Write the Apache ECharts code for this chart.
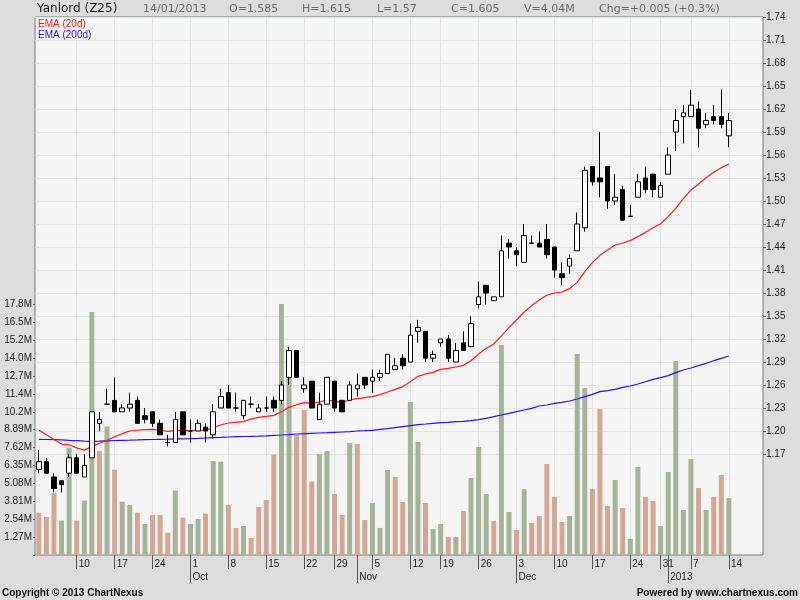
<!DOCTYPE html>
<html>
<head>
<meta charset="utf-8">
<script src="https://cdn.jsdelivr.net/npm/echarts@6/dist/echarts.min.js"></script>
<style>html,body{margin:0;padding:0;background:#dddddd;}#c{width:800px;height:600px;}</style>
</head>
<body>
<div id="c"></div>
<script>
var dates = ['2012-09-03','2012-09-04','2012-09-05','2012-09-06','2012-09-07','2012-09-10','2012-09-11','2012-09-12','2012-09-13','2012-09-14',
'2012-09-17','2012-09-18','2012-09-19','2012-09-20','2012-09-21','2012-09-24','2012-09-25','2012-09-26','2012-09-27','2012-09-28',
'2012-10-01','2012-10-02','2012-10-03','2012-10-04','2012-10-05','2012-10-08','2012-10-09','2012-10-10','2012-10-11','2012-10-12',
'2012-10-15','2012-10-16','2012-10-17','2012-10-18','2012-10-19','2012-10-22','2012-10-23','2012-10-24','2012-10-25','2012-10-29',
'2012-10-30','2012-10-31','2012-11-01','2012-11-02','2012-11-05','2012-11-06','2012-11-07','2012-11-08','2012-11-09','2012-11-12',
'2012-11-14','2012-11-15','2012-11-16','2012-11-19','2012-11-20','2012-11-21','2012-11-22','2012-11-23','2012-11-26','2012-11-27',
'2012-11-28','2012-11-29','2012-11-30','2012-12-03','2012-12-04','2012-12-05','2012-12-06','2012-12-07','2012-12-10','2012-12-11',
'2012-12-12','2012-12-13','2012-12-14','2012-12-17','2012-12-18','2012-12-19','2012-12-20','2012-12-21','2012-12-24','2012-12-26',
'2012-12-27','2012-12-28','2012-12-31','2013-01-02','2013-01-03','2013-01-04','2013-01-07','2013-01-08','2013-01-09','2013-01-10',
'2013-01-11','2013-01-14'];

var open = [1.15,1.16,1.14,1.135,1.145,1.165,1.14,1.165,1.21,1.235,
1.24,1.225,1.23,1.24,1.22,1.225,1.21,1.185,1.185,1.225,
1.2,1.2,1.205,1.195,1.23,1.25,1.23,1.22,1.235,1.225,
1.23,1.24,1.24,1.27,1.305,1.255,1.265,1.215,1.235,1.265,
1.24,1.24,1.255,1.27,1.265,1.27,1.275,1.28,1.295,1.29,
1.33,1.33,1.295,1.315,1.32,1.29,1.315,1.31,1.365,1.39,
1.37,1.375,1.445,1.435,1.42,1.445,1.445,1.45,1.44,1.405,
1.415,1.435,1.465,1.545,1.53,1.545,1.5,1.515,1.48,1.505,
1.53,1.535,1.505,1.535,1.59,1.61,1.61,1.62,1.6,1.61,
1.61,1.585];
var high = [1.175,1.165,1.145,1.135,1.17,1.17,1.17,1.225,1.225,1.255,
1.27,1.235,1.25,1.245,1.23,1.225,1.215,1.195,1.225,1.225,
1.215,1.215,1.21,1.235,1.255,1.26,1.25,1.24,1.245,1.235,
1.245,1.245,1.265,1.31,1.305,1.27,1.265,1.25,1.27,1.265,
1.24,1.265,1.275,1.27,1.28,1.28,1.3,1.295,1.3,1.34,
1.345,1.33,1.305,1.32,1.325,1.315,1.33,1.35,1.395,1.39,
1.375,1.455,1.45,1.44,1.47,1.455,1.46,1.47,1.44,1.42,
1.43,1.485,1.545,1.545,1.59,1.545,1.535,1.52,1.495,1.535,
1.545,1.535,1.525,1.57,1.62,1.625,1.645,1.63,1.615,1.625,
1.645,1.615];
var low = [1.145,1.145,1.12,1.12,1.14,1.145,1.14,1.165,1.2,1.235,
1.225,1.225,1.225,1.21,1.21,1.205,1.195,1.18,1.185,1.195,
1.185,1.2,1.185,1.19,1.23,1.23,1.225,1.215,1.23,1.225,
1.225,1.225,1.235,1.26,1.27,1.25,1.23,1.215,1.235,1.225,
1.225,1.24,1.245,1.255,1.25,1.265,1.275,1.28,1.28,1.29,
1.315,1.29,1.29,1.31,1.29,1.29,1.305,1.31,1.36,1.365,
1.37,1.375,1.425,1.415,1.42,1.445,1.44,1.425,1.4,1.39,
1.405,1.435,1.46,1.52,1.505,1.49,1.495,1.475,1.48,1.505,
1.51,1.505,1.505,1.535,1.565,1.575,1.61,1.57,1.595,1.6,
1.595,1.57];
var close = [1.16,1.145,1.125,1.13,1.165,1.145,1.155,1.225,1.215,1.235,
1.225,1.23,1.235,1.21,1.215,1.21,1.195,1.185,1.215,1.195,
1.2,1.21,1.2,1.225,1.245,1.23,1.23,1.24,1.235,1.23,
1.23,1.23,1.26,1.305,1.27,1.26,1.23,1.235,1.27,1.23,
1.225,1.26,1.26,1.26,1.27,1.275,1.3,1.285,1.285,1.325,
1.335,1.295,1.3,1.32,1.295,1.305,1.305,1.34,1.375,1.38,
1.375,1.435,1.44,1.43,1.455,1.445,1.44,1.43,1.41,1.4,
1.425,1.47,1.54,1.525,1.525,1.5,1.505,1.475,1.48,1.525,
1.515,1.515,1.52,1.56,1.605,1.615,1.625,1.595,1.605,1.605,
1.6,1.605];
// volume in millions of shares
var volume = [3.00,2.70,4.42,2.44,7.62,2.44,3.86,17.24,7.40,9.11,
6.05,3.78,3.55,3.00,2.20,2.84,2.84,1.58,4.56,2.65,
2.20,2.55,2.93,6.67,6.62,3.55,1.92,2.06,1.21,3.41,
3.90,7.12,17.8,13.0,8.51,10.29,5.20,7.17,7.38,4.33,
2.84,7.95,7.88,2.48,3.69,1.92,6.03,5.53,3.76,10.86,
8.02,3.69,1.84,2.20,1.28,1.28,3.12,5.46,7.66,4.33,
2.41,14.90,3.05,1.77,4.68,2.27,2.77,6.46,4.12,2.34,
2.77,14.26,11.85,4.68,10.36,3.48,5.32,3.33,1.14,6.24,
4.12,3.83,2.06,5.89,13.76,3.19,6.81,4.75,3.19,4.12,
5.68,4.04];
var ema20 = [1.2013,1.1952,1.189,1.183,1.182,1.178,1.175,1.1796,1.184,1.188,
1.1926,1.1965,1.200,1.201,1.2017,1.202,1.201,1.1996,1.2004,1.2004,
1.2004,1.2009,1.2009,1.2044,1.2078,1.2104,1.2113,1.2122,1.2156,1.2178,
1.219,1.2204,1.2252,1.2309,1.2343,1.2370,1.2361,1.2378,1.2404,1.2387,
1.2374,1.2404,1.2422,1.2435,1.2448,1.2474,1.2509,1.2543,1.2578,1.2644,
1.2713,1.2744,1.2765,1.2804,1.2817,1.2835,1.2857,1.2917,1.3004,1.3078,
1.3135,1.324,1.3348,1.3448,1.3552,1.3635,1.3709,1.3770,1.3800,1.3813,
1.3857,1.3939,1.4078,1.4196,1.4291,1.4361,1.4426,1.4452,1.4483,1.4535,
1.4591,1.4652,1.4704,1.4796,1.4904,1.5030,1.5143,1.5222,1.5304,1.5374,
1.5435,1.5483];
var ema200 = [1.1891,1.1889,1.1887,1.1883,1.1878,1.1874,1.1867,1.1865,1.1867,1.1872,
1.1876,1.1878,1.1880,1.1883,1.1887,1.1889,1.1891,1.1893,1.1896,1.1898,
1.1900,1.1904,1.1909,1.1913,1.1917,1.1922,1.1926,1.1928,1.1930,1.1933,
1.1937,1.1944,1.1948,1.1954,1.1961,1.1965,1.1970,1.1974,1.1978,1.1983,
1.1987,1.1991,1.2000,1.2004,1.2009,1.2022,1.2031,1.2044,1.2057,1.2070,
1.2083,1.2091,1.2100,1.2109,1.2113,1.2122,1.2126,1.2135,1.2148,1.2165,
1.2187,1.2209,1.2230,1.2252,1.2274,1.2296,1.2326,1.2339,1.2361,1.2374,
1.2391,1.2417,1.2448,1.2478,1.2513,1.2526,1.2543,1.2570,1.2587,1.2613,
1.2643,1.2674,1.2696,1.2722,1.2761,1.2796,1.2822,1.2852,1.2883,1.2917,
1.2948,1.2978];
var priceTicks = {min: 1.17, max: 1.74, step: 0.03};
var volumeTicks = {step: 1.27, count: 14};
var monthNames = ['Jan','Feb','Mar','Apr','May','Jun','Jul','Aug','Sep','Oct','Nov','Dec'];
var stockName = 'Yanlord (Z25)';

var padCount = 4;
var cats = dates.slice();
for (var p = 0; p < padCount; p++) cats.push('pad' + p);

function d(i) { return new Date(dates[i] + 'T00:00:00Z'); }
function isWeekStart(i) {
  return i > 0 && i < dates.length && d(i).getUTCDay() < d(i - 1).getUTCDay();
}
function isMonthStart(i) {
  return i > 0 && i < dates.length && d(i).getUTCMonth() !== d(i - 1).getUTCMonth();
}

var candleData = dates.map(function (_, i) { return [open[i], close[i], low[i], high[i]]; });
var UP = '#a5b398', DOWN = '#d3a794';
var volData = volume.map(function (v, i) {
  var up = i > 0 && close[i] > close[i - 1];
  return { value: v * 1e6, itemStyle: { color: up ? UP : DOWN } };
});

var last = dates.length - 1;
var ld = d(last);
function pad2(n) { return (n < 10 ? '0' : '') + n; }
var hdrDate = pad2(ld.getUTCDate()) + '/' + pad2(ld.getUTCMonth() + 1) + '/' + ld.getUTCFullYear();
var chg = close[last] - close[last - 1];
var chgPct = chg / close[last - 1] * 100;
function trimNum(v) { return String(+v.toFixed(3)); }
var hdrItems = [
  [143, hdrDate],
  [229, 'O=' + trimNum(open[last])],
  [302, 'H=' + trimNum(high[last])],
  [377, 'L=' + trimNum(low[last])],
  [451, 'C=' + trimNum(close[last])],
  [524, 'V=' + volume[last].toFixed(2) + 'M'],
  [599, 'Chg=' + (chg >= 0 ? '+' : '') + chg.toFixed(3) + ' (' + (chg >= 0 ? '+' : '') + chgPct.toFixed(1) + '%)']
];

var AX = 'Liberation Sans';
var graphics = [
  { type: 'text', x: 37, y: 9, style: { text: stockName, font: '12px "DejaVu Sans"', fill: '#1a1a1a', verticalAlign: 'middle' } },
  { type: 'text', x: 38, y: 24, z: 10, style: { text: 'EMA (20d)', font: '10px "Liberation Sans"', fill: '#ff1a1a', verticalAlign: 'middle' } },
  { type: 'text', x: 38, y: 35, z: 10, style: { text: 'EMA (200d)', font: '10px "Liberation Sans"', fill: '#2a10ff', verticalAlign: 'middle' } },
  { type: 'text', x: 2, y: 593, style: { text: 'Copyright \u00a9 2013 ChartNexus', font: 'bold 10px "Liberation Sans"', fill: '#111', verticalAlign: 'middle' } },
  { type: 'text', x: 798, y: 593, style: { text: 'Powered by www.chartnexus.com', font: 'bold 10px "Liberation Sans"', fill: '#111', align: 'right', verticalAlign: 'middle' } }
];
hdrItems.forEach(function (h) {
  graphics.push({ type: 'text', x: h[0], y: 9.5, style: { text: h[1], font: '11px "DejaVu Sans"', fill: '#6a6a6a', verticalAlign: 'middle' } });
});

var L = 35, R = 37;
var chart = echarts.init(document.getElementById('c'), null, { renderer: 'canvas' });
chart.setOption({
  backgroundColor: '#dddddd',
  animation: false,
  textStyle: { fontFamily: AX },
  grid: [
    { left: L, right: R, top: 17, bottom: 45, show: true, backgroundColor: '#f5f5f5', borderColor: '#6f7c7c', borderWidth: 1, z: 0 },
    { left: L, right: R, top: 17, bottom: 146 },
    { left: L, right: R, top: 555 - volumeTicks.count * 17.9, bottom: 45 }
  ],
  xAxis: [
    { type: 'category', gridIndex: 0, data: cats, boundaryGap: true, position: 'bottom',
      axisLine: { show: false },
      axisTick: { show: true, alignWithLabel: true, interval: function (i) { return isWeekStart(i); }, length: 14, lineStyle: { color: '#555' } },
      axisLabel: { show: true, interval: function (i) { return isWeekStart(i); }, formatter: function (v) { return String(new Date(v + 'T00:00:00Z').getUTCDate()); },
        align: 'left', padding: [0, 0, 0, 2], margin: 4, fontSize: 10, color: '#222', fontFamily: AX },
      splitLine: { show: true, alignWithLabel: true, interval: function (i) { return isWeekStart(i); }, lineStyle: { color: '#e3e3e3', width: 1 } }
    },
    { type: 'category', gridIndex: 0, data: cats, boundaryGap: true, position: 'bottom',
      axisLine: { show: false },
      axisTick: { show: true, alignWithLabel: true, interval: function (i) { return isMonthStart(i); }, length: 28, lineStyle: { color: '#555' } },
      axisLabel: { show: true, interval: function (i) { return isMonthStart(i); }, formatter: function (v) { var dt = new Date(v + 'T00:00:00Z'); return dt.getUTCMonth() === 0 ? String(dt.getUTCFullYear()) : monthNames[dt.getUTCMonth()]; },
        align: 'left', padding: [0, 0, 0, 2], margin: 17, fontSize: 10, color: '#222', fontFamily: AX },
      splitLine: { show: false }
    },
    { type: 'category', gridIndex: 1, data: cats, boundaryGap: true, show: false },
    { type: 'category', gridIndex: 2, data: cats, boundaryGap: true, show: false }
  ],
  yAxis: [
    { type: 'value', gridIndex: 0, show: false, min: 0, max: 1, splitLine: { show: false } },
    { type: 'value', gridIndex: 1, position: 'right', min: priceTicks.min, max: priceTicks.max, interval: priceTicks.step, scale: true,
      axisLine: { show: false },
      axisTick: { show: true, length: 3, lineStyle: { color: '#666' } },
      axisLabel: { margin: 3, fontSize: 10, color: '#222', fontFamily: AX, formatter: function (v) { return v.toFixed(2); } },
      splitLine: { show: true, lineStyle: { color: '#e3e3e3', width: 1 } }
    },
    { type: 'value', gridIndex: 2, position: 'left', min: 0, max: volumeTicks.step * volumeTicks.count * 1e6, interval: volumeTicks.step * 1e6,
      axisLine: { show: false },
      axisTick: { show: true, length: 2, lineStyle: { color: '#666' } },
      axisLabel: { margin: 3, fontSize: 10, color: '#222', fontFamily: AX, formatter: function (v) { return v === 0 ? '' : (v / 1e6).toPrecision(3) + 'M'; } },
      splitLine: { show: false }
    }
  ],
  series: [
    { type: 'bar', name: 'Volume', xAxisIndex: 3, yAxisIndex: 2, data: volData, barWidth: 5, clip: false, z: 1, silent: true },
    { type: 'line', name: 'EMA (200d)', xAxisIndex: 2, yAxisIndex: 1, data: ema200, symbol: 'none', clip: false, z: 2,
      lineStyle: { color: '#2a10ff', width: 1.2 } },
    { type: 'line', name: 'EMA (20d)', xAxisIndex: 2, yAxisIndex: 1, data: ema20, symbol: 'none', clip: false, z: 2,
      lineStyle: { color: '#ff1a1a', width: 1.2 } },
    { type: 'candlestick', name: stockName, xAxisIndex: 2, yAxisIndex: 1, data: candleData, barWidth: 5, clip: false, z: 3,
      itemStyle: { color: '#ffffff', color0: '#000000', borderColor: '#000000', borderColor0: '#000000', borderWidth: 1 } }
  ],
  graphic: graphics
});
</script>
</body>
</html>
